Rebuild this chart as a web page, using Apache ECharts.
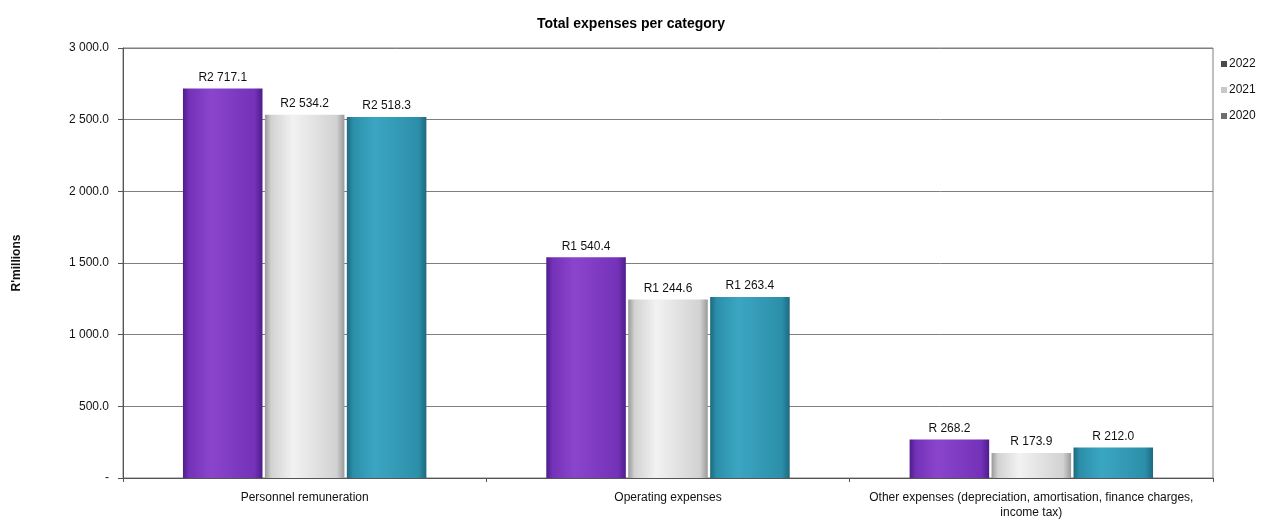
<!DOCTYPE html>
<html lang="en">
<head>
    <meta charset="UTF-8">
    <title>Total expenses per category</title>
    <style>
        body { margin: 0; background: #fff; }
        #chart { width: 1262px; height: 523px; }
    </style>
    <script src="https://cdn.jsdelivr.net/npm/echarts@6/dist/echarts.min.js"></script>
</head>
<body>
    <div id="chart"></div>
    <script>
        var categories = ['Personnel remuneration', 'Operating expenses', 'Other expenses (depreciation, amortisation, finance charges,\nincome tax)'];
        var years = ['2022', '2021', '2020'];
        var values2022 = [2717.1, 1540.4, 268.2];
        var values2021 = [2534.2, 1244.6, 173.9];
        var values2020 = [2518.3, 1263.4, 212.0];
        var yTicks = [0, 500, 1000, 1500, 2000, 2500, 3000];

        var chart = echarts.init(document.getElementById('chart'));

        // thousands with a space, one decimal
        function fmt(v) {
            var s = v.toFixed(1).split('.');
            return s[0].replace(/\B(?=(\d{3})+(?!\d))/g, ' ') + '.' + s[1];
        }
        function money(v) {
            var s = fmt(v);
            if (v >= 1000) return 'R' + s;
            return 'R ' + s;
        }

        // bevel look: dark edges, lighter inside
        function bevel(dark, main, light) {
            return new echarts.graphic.LinearGradient(0, 0, 1, 0, [
                {offset: 0, color: dark},
                {offset: 0.08, color: main},
                {offset: 0.35, color: light},
                {offset: 0.9, color: main},
                {offset: 1, color: dark}
            ]);
        }

        var colors = [
            bevel('#4e1d8c', '#7432b8', '#8a45cc'),
            bevel('#9a9a9a', '#d2d2d2', '#f2f2f2'),
            bevel('#1c6a80', '#2c8fa9', '#3ba6c2')
        ];
        var iconColors = ['#4a4a4a', '#c8c8c8', '#6e6e6e'];
        var seriesData = [values2022, values2021, values2020];

        var series = years.map(function (y, i) {
            return {
                name: y,
                type: 'bar',
                data: seriesData[i],
                barGap: '3%',
                barCategoryGap: '33%',
                itemStyle: { color: colors[i] },
                label: {
                    show: true,
                    position: 'top',
                    distance: 5,
                    fontFamily: 'Liberation Sans',
                    fontSize: 12,
                    color: '#111',
                    formatter: function (p) { return money(p.value); }
                }
            };
        });

        var option = {
            animation: false,
            title: {
                text: 'Total expenses per category',
                left: 'center',
                top: 12,
                textStyle: { fontFamily: 'Liberation Sans', fontSize: 14, fontWeight: 'bold', color: '#000' }
            },
            legend: {
                orient: 'vertical',
                left: 1216,
                top: 53,
                itemWidth: 6,
                itemHeight: 6,
                itemGap: 14,
                icon: 'rect',
                textStyle: { fontFamily: 'Liberation Sans', fontSize: 12, color: '#111', padding: [0, 0, 0, -3] },
                data: years.map(function (y, i) {
                    return { name: y, itemStyle: { color: iconColors[i] } };
                })
            },
            grid: {
                left: 123,
                right: 49,
                top: 48,
                bottom: 45,
                show: true,
                borderColor: '#7f7f7f',
                borderWidth: 1
            },
            xAxis: {
                type: 'category',
                data: categories,
                axisLine: { lineStyle: { color: '#555' } },
                axisTick: { show: true, length: 4, lineStyle: { color: '#555' } },
                axisLabel: {
                    fontFamily: 'Liberation Sans',
                    fontSize: 12,
                    color: '#111',
                    margin: 12,
                    lineHeight: 15,
                    interval: 0
                }
            },
            yAxis: {
                type: 'value',
                min: yTicks[0],
                max: yTicks[yTicks.length - 1],
                interval: 500,
                name: "R'millions",
                nameLocation: 'middle',
                nameGap: 100,
                nameTextStyle: { fontFamily: 'Liberation Sans', fontSize: 12, fontWeight: 'bold', color: '#111' },
                axisLine: { show: true, lineStyle: { color: '#555' } },
                axisTick: { show: true, length: 5, lineStyle: { color: '#555' } },
                splitLine: { lineStyle: { color: '#7f7f7f' } },
                axisLabel: {
                    fontFamily: 'Liberation Sans',
                    fontSize: 12,
                    color: '#111',
                    margin: 14,
                    formatter: function (v) { return v === 0 ? '-' : fmt(v); }
                }
            },
            series: series
        };

        chart.setOption(option);
    </script>
</body>
</html>
